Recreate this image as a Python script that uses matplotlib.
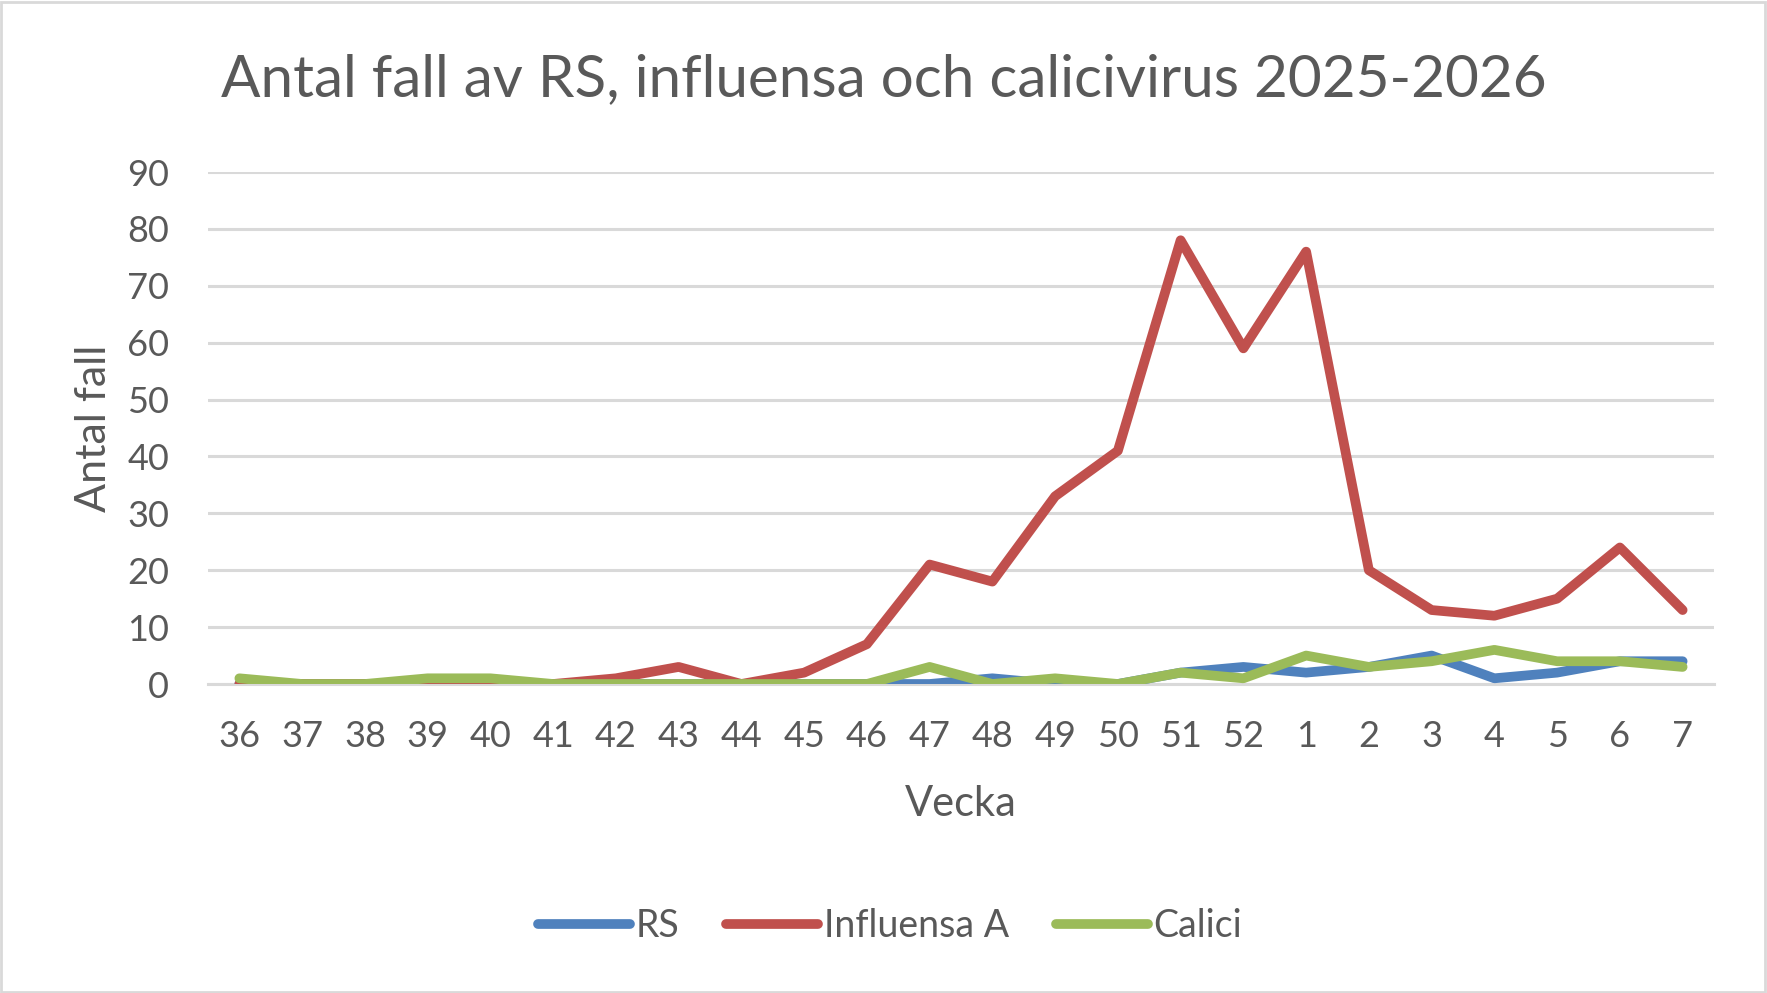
import matplotlib
matplotlib.use("Agg")
import matplotlib.pyplot as plt
from matplotlib.patches import Rectangle

weeks = ["36", "37", "38", "39", "40", "41", "42", "43", "44", "45", "46", "47",
         "48", "49", "50", "51", "52", "1", "2", "3", "4", "5", "6", "7"]
rs = [0, 0, 0, 0, 0, 0, 0, 0, 0, 0, 0, 0, 1, 0, 0, 2, 3, 2, 3, 5, 1, 2, 4, 4]
influensa_a = [0, 0, 0, 0, 0, 0, 1, 3, 0, 2, 7, 21, 18, 33, 41, 78, 59, 76, 20, 13, 12, 15, 24, 13]
calici = [1, 0, 0, 1, 1, 0, 0, 0, 0, 0, 0, 3, 0, 1, 0, 2, 1, 5, 3, 4, 6, 4, 4, 3]

series = [("RS", rs, "#4F81BD"),
          ("Influensa A", influensa_a, "#C0504D"),
          ("Calici", calici, "#9BBB59")]

plt.rcParams['font.family'] = ['Lato', 'DejaVu Sans']
text_color = "#595959"
grid_color = "#D9D9D9"

W, H = 1767, 993
fig = plt.figure(figsize=(W / 100, H / 100), dpi=100)
fig.patch.set_facecolor("white")

left, right, top, bottom = 208, 1714, 172, 684
ax = fig.add_axes([left / W, 1 - bottom / H, (right - left) / W, (bottom - top) / H])

x = list(range(len(weeks)))
for name, vals, col in series:
    ax.plot(x, vals, color=col, lw=7, label=name,
            solid_capstyle='round', solid_joinstyle='round', zorder=3)

ax.set_xlim(-0.5, len(weeks) - 0.5)
ax.set_ylim(0, 90)
ax.set_yticks(range(0, 91, 10))
ax.set_xticks(x)
ax.set_xticklabels(weeks)
ax.yaxis.grid(True, color=grid_color, lw=2.2, zorder=0)
ax.set_axisbelow(True)
for s in ["top", "right", "left"]:
    ax.spines[s].set_visible(False)
ax.spines["bottom"].set_color(grid_color)
ax.spines["bottom"].set_linewidth(2.2)
ax.tick_params(axis='both', length=0, labelsize=26, labelcolor=text_color)
ax.tick_params(axis='y', pad=28)
ax.tick_params(axis='x', pad=26)
ax.set_facecolor("white")

ax.set_xlabel("Vecka", fontsize=30, color=text_color, labelpad=23)
ax.set_ylabel("Antal fall", fontsize=31, color=text_color, labelpad=10)

fig.text(0.5, 1 - 80 / H, "Antal fall av RS, influensa och calicivirus 2025-2026",
         ha='center', va='center', fontsize=42, color=text_color)

leg = fig.legend(loc='center', bbox_to_anchor=(890 / W, 1 - 926 / H), ncol=3,
                 frameon=False, fontsize=27, handlelength=2.45, handletextpad=0.15,
                 columnspacing=1.25, labelcolor=text_color)

fig.patches.append(Rectangle((1 / W, 1 / H), 1 - 3 / W, 1 - 3 / H, transform=fig.transFigure,
                             fill=False, edgecolor=grid_color, lw=2))

fig.savefig("out.png", dpi=100)
